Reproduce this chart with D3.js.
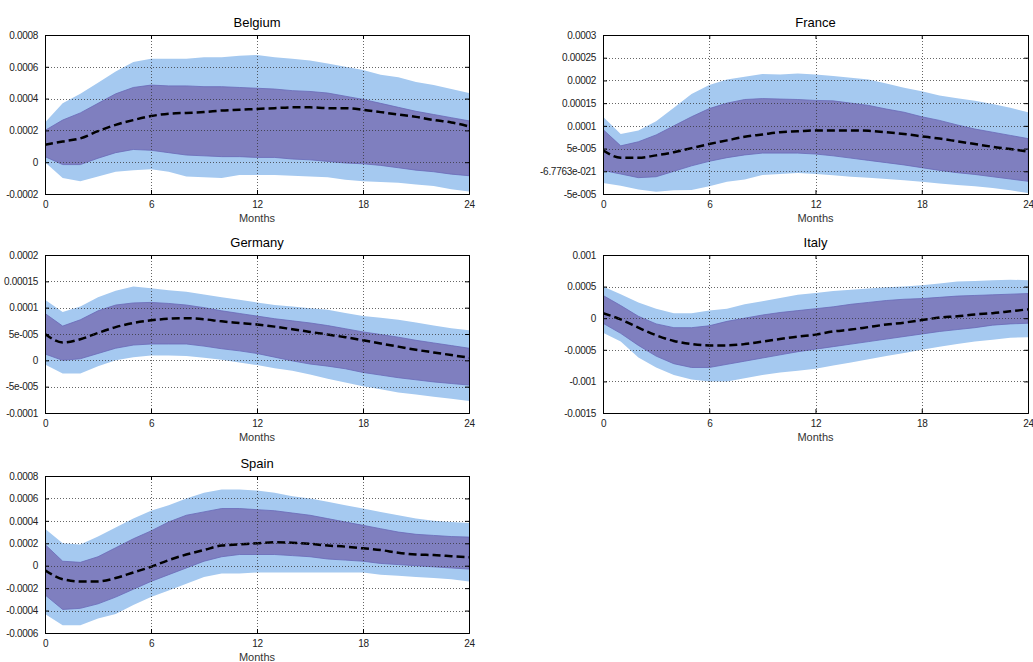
<!DOCTYPE html>
<html>
<head>
<meta charset="utf-8">
<script src="https://cdn.jsdelivr.net/npm/d3@7"></script>
<style>
  body { margin: 0; background: #fff; }
  svg { display: block; }
  text { font-family: "Liberation Sans", Arial, sans-serif; }
</style>
</head>
<body>
<svg id="chart" width="1033" height="662"></svg>
<script>
// ---------- DATA ----------
const months = d3.range(0, 25);
const xTicks = [0, 6, 12, 18, 24];
const xLabel = "Months";

// Belgium
const belgiumMedian = [1.1e-4,1.3e-4,1.5e-4,1.95e-4,2.35e-4,2.65e-4,2.9e-4,3.05e-4,3.1e-4,3.15e-4,3.25e-4,3.3e-4,3.35e-4,3.4e-4,3.45e-4,3.45e-4,3.4e-4,3.4e-4,3.3e-4,3.15e-4,3.0e-4,2.85e-4,2.65e-4,2.5e-4,2.25e-4];
const belgiumInnerUp = [2.0e-4,2.65e-4,3.1e-4,3.7e-4,4.3e-4,4.7e-4,4.85e-4,4.8e-4,4.8e-4,4.75e-4,4.75e-4,4.7e-4,4.65e-4,4.6e-4,4.5e-4,4.45e-4,4.35e-4,4.15e-4,3.95e-4,3.7e-4,3.45e-4,3.2e-4,3.0e-4,2.8e-4,2.6e-4];
const belgiumInnerLo = [0.35e-4,-0.15e-4,-0.15e-4,0.25e-4,0.6e-4,0.8e-4,0.75e-4,0.6e-4,0.45e-4,0.4e-4,0.35e-4,0.35e-4,0.3e-4,0.3e-4,0.2e-4,0.15e-4,0.05e-4,-0.05e-4,-0.1e-4,-0.2e-4,-0.35e-4,-0.5e-4,-0.6e-4,-0.75e-4,-0.85e-4];
const belgiumOuterUp = [2.5e-4,3.7e-4,4.3e-4,5.0e-4,5.7e-4,6.3e-4,6.5e-4,6.5e-4,6.5e-4,6.6e-4,6.6e-4,6.7e-4,6.75e-4,6.6e-4,6.5e-4,6.4e-4,6.2e-4,6.0e-4,5.8e-4,5.5e-4,5.35e-4,5.05e-4,4.85e-4,4.6e-4,4.35e-4];
const belgiumOuterLo = [0.0e-4,-1.0e-4,-1.2e-4,-0.9e-4,-0.6e-4,-0.5e-4,-0.45e-4,-0.6e-4,-0.9e-4,-0.95e-4,-1.0e-4,-0.8e-4,-0.8e-4,-0.8e-4,-0.85e-4,-0.9e-4,-0.95e-4,-1.1e-4,-1.2e-4,-1.25e-4,-1.3e-4,-1.4e-4,-1.5e-4,-1.7e-4,-1.85e-4];
const belgiumYTicks = [-0.0002, 0, 0.0002, 0.0004, 0.0006, 0.0008];
const belgiumYLabels = ["-0.0002", "0", "0.0002", "0.0004", "0.0006", "0.0008"];

// France
const franceMedian = [4.6e-5,3.0e-5,3.0e-5,3.5e-5,4.2e-5,5.1e-5,6.0e-5,6.8e-5,7.6e-5,8.1e-5,8.6e-5,8.8e-5,9.0e-5,9.0e-5,9.0e-5,8.9e-5,8.6e-5,8.2e-5,7.7e-5,7.2e-5,6.6e-5,6.0e-5,5.4e-5,4.9e-5,4.3e-5];
const franceInnerUp = [9.2e-5,5.6e-5,6.5e-5,8.0e-5,10.0e-5,12.0e-5,13.8e-5,15.0e-5,15.8e-5,16.0e-5,15.9e-5,15.8e-5,15.6e-5,15.5e-5,15.0e-5,14.5e-5,13.7e-5,13.0e-5,12.0e-5,11.2e-5,10.2e-5,9.3e-5,8.6e-5,7.9e-5,7.2e-5];
const franceInnerLo = [0.2e-5,-0.6e-5,-1.4e-5,-1.2e-5,0.0e-5,1.2e-5,2.2e-5,3.0e-5,3.6e-5,4.0e-5,4.0e-5,4.0e-5,3.8e-5,3.4e-5,2.9e-5,2.4e-5,1.9e-5,1.4e-5,0.8e-5,0.2e-5,-0.3e-5,-0.7e-5,-1.2e-5,-1.7e-5,-2.2e-5];
const franceOuterUp = [12.0e-5,8.2e-5,9.0e-5,11.0e-5,14.0e-5,17.0e-5,19.0e-5,20.2e-5,20.8e-5,21.4e-5,21.3e-5,21.5e-5,21.3e-5,21.0e-5,20.6e-5,20.2e-5,19.3e-5,18.4e-5,17.6e-5,16.7e-5,16.1e-5,15.5e-5,14.8e-5,14.0e-5,13.0e-5];
const franceOuterLo = [-2.6e-5,-3.2e-5,-4.0e-5,-4.5e-5,-4.2e-5,-4.1e-5,-3.3e-5,-2.3e-5,-1.8e-5,-0.8e-5,-0.6e-5,-0.4e-5,-0.6e-5,-0.9e-5,-1.2e-5,-1.4e-5,-1.7e-5,-2.0e-5,-2.3e-5,-2.7e-5,-3.0e-5,-3.3e-5,-3.7e-5,-4.2e-5,-4.8e-5];
const franceYTicks = [-0.00005, 0, 0.00005, 0.0001, 0.00015, 0.0002, 0.00025, 0.0003];
const franceYLabels = ["-5e-005", "-6.7763e-021", "5e-005", "0.0001", "0.00015", "0.0002", "0.00025", "0.0003"];

// Germany
const germanyMedian = [5.0e-5,3.4e-5,4.0e-5,5.2e-5,6.3e-5,7.1e-5,7.6e-5,7.9e-5,8.0e-5,7.8e-5,7.4e-5,7.1e-5,6.8e-5,6.4e-5,5.9e-5,5.4e-5,4.9e-5,4.4e-5,3.8e-5,3.2e-5,2.6e-5,2.0e-5,1.5e-5,1.0e-5,0.5e-5];
const germanyInnerUp = [8.9e-5,6.5e-5,7.7e-5,9.4e-5,10.5e-5,10.9e-5,11.0e-5,10.8e-5,10.5e-5,10.0e-5,9.4e-5,8.9e-5,8.4e-5,7.9e-5,7.5e-5,7.1e-5,6.6e-5,6.0e-5,5.4e-5,4.9e-5,4.4e-5,3.8e-5,3.3e-5,2.8e-5,2.3e-5];
const germanyInnerLo = [1.2e-5,0.0e-5,0.3e-5,1.3e-5,2.3e-5,2.9e-5,3.1e-5,3.1e-5,3.1e-5,2.7e-5,2.2e-5,1.8e-5,1.3e-5,0.6e-5,-0.1e-5,-0.7e-5,-1.1e-5,-1.6e-5,-2.3e-5,-2.8e-5,-3.3e-5,-3.7e-5,-4.1e-5,-4.4e-5,-4.7e-5];
const germanyOuterUp = [11.5e-5,9.2e-5,10.2e-5,12.0e-5,13.2e-5,14.0e-5,13.7e-5,13.3e-5,13.0e-5,12.5e-5,12.0e-5,11.5e-5,11.0e-5,10.5e-5,10.2e-5,9.9e-5,9.6e-5,9.0e-5,8.4e-5,8.1e-5,7.7e-5,7.2e-5,6.6e-5,6.1e-5,5.7e-5];
const germanyOuterLo = [-0.8e-5,-2.5e-5,-2.5e-5,-1.1e-5,0.0e-5,0.6e-5,0.9e-5,0.9e-5,0.8e-5,0.5e-5,0.1e-5,-0.4e-5,-0.9e-5,-1.5e-5,-2.0e-5,-2.7e-5,-3.5e-5,-4.2e-5,-4.9e-5,-5.5e-5,-6.1e-5,-6.5e-5,-6.9e-5,-7.3e-5,-7.7e-5];
const germanyYTicks = [-0.0001, -0.00005, 0, 0.00005, 0.0001, 0.00015, 0.0002];
const germanyYLabels = ["-0.0001", "-5e-005", "0", "5e-005", "0.0001", "0.00015", "0.0002"];

// Italy
const italyMedian = [0.8e-4,-0.2e-4,-1.5e-4,-2.7e-4,-3.6e-4,-4.1e-4,-4.3e-4,-4.3e-4,-4.1e-4,-3.7e-4,-3.3e-4,-2.9e-4,-2.6e-4,-2.1e-4,-1.8e-4,-1.4e-4,-1.0e-4,-0.7e-4,-0.3e-4,0.1e-4,0.3e-4,0.6e-4,0.8e-4,1.1e-4,1.4e-4];
const italyInnerUp = [3.6e-4,2.0e-4,0.3e-4,-0.9e-4,-1.5e-4,-1.5e-4,-1.2e-4,-0.5e-4,0.0e-4,0.5e-4,0.9e-4,1.2e-4,1.5e-4,1.8e-4,2.2e-4,2.5e-4,2.8e-4,3.0e-4,3.1e-4,3.3e-4,3.5e-4,3.6e-4,3.7e-4,3.8e-4,3.9e-4];
const italyInnerLo = [-0.8e-4,-2.4e-4,-4.3e-4,-6.0e-4,-7.2e-4,-7.8e-4,-7.8e-4,-7.3e-4,-6.8e-4,-6.3e-4,-5.8e-4,-5.3e-4,-4.9e-4,-4.5e-4,-4.1e-4,-3.7e-4,-3.3e-4,-2.9e-4,-2.5e-4,-2.1e-4,-1.8e-4,-1.5e-4,-1.1e-4,-0.9e-4,-0.8e-4];
const italyOuterUp = [5.0e-4,3.8e-4,2.5e-4,1.5e-4,0.8e-4,0.8e-4,1.2e-4,1.5e-4,2.2e-4,2.7e-4,3.2e-4,3.7e-4,4.0e-4,4.3e-4,4.5e-4,4.7e-4,4.9e-4,5.0e-4,5.2e-4,5.5e-4,5.8e-4,5.9e-4,6.0e-4,6.1e-4,6.0e-4];
const italyOuterLo = [-2.3e-4,-3.7e-4,-6.2e-4,-7.8e-4,-9.0e-4,-9.7e-4,-10.0e-4,-10.0e-4,-9.5e-4,-9.0e-4,-8.6e-4,-8.3e-4,-8.0e-4,-7.5e-4,-7.0e-4,-6.5e-4,-6.0e-4,-5.5e-4,-5.0e-4,-4.5e-4,-4.1e-4,-3.7e-4,-3.4e-4,-3.1e-4,-3.0e-4];
const italyYTicks = [-0.0015, -0.001, -0.0005, 0, 0.0005, 0.001];
const italyYLabels = ["-0.0015", "-0.001", "-0.0005", "0", "0.0005", "0.001"];

// Spain
const spainMedian = [-0.4e-4,-1.2e-4,-1.4e-4,-1.4e-4,-1.1e-4,-0.6e-4,-0.1e-4,0.5e-4,1.0e-4,1.4e-4,1.8e-4,1.9e-4,2.0e-4,2.1e-4,2.05e-4,1.95e-4,1.8e-4,1.7e-4,1.55e-4,1.4e-4,1.15e-4,1.0e-4,0.95e-4,0.85e-4,0.75e-4];
const spainInnerUp = [1.9e-4,0.4e-4,0.3e-4,0.8e-4,1.6e-4,2.4e-4,3.1e-4,3.9e-4,4.5e-4,4.8e-4,5.1e-4,5.1e-4,5.0e-4,4.9e-4,4.7e-4,4.5e-4,4.2e-4,3.9e-4,3.6e-4,3.3e-4,3.0e-4,2.8e-4,2.7e-4,2.6e-4,2.55e-4];
const spainInnerLo = [-2.6e-4,-3.9e-4,-3.8e-4,-3.4e-4,-2.8e-4,-2.1e-4,-1.4e-4,-0.8e-4,-0.2e-4,0.4e-4,0.8e-4,1.0e-4,1.0e-4,1.0e-4,0.9e-4,0.8e-4,0.6e-4,0.5e-4,0.4e-4,0.2e-4,0.1e-4,0.0e-4,-0.1e-4,-0.2e-4,-0.3e-4];
const spainOuterUp = [3.3e-4,2.0e-4,1.9e-4,2.6e-4,3.4e-4,4.2e-4,4.9e-4,5.4e-4,6.0e-4,6.5e-4,6.8e-4,6.8e-4,6.7e-4,6.5e-4,6.2e-4,6.0e-4,5.7e-4,5.4e-4,5.1e-4,4.8e-4,4.5e-4,4.2e-4,4.0e-4,3.9e-4,3.8e-4];
const spainOuterLo = [-4.3e-4,-5.3e-4,-5.3e-4,-4.7e-4,-4.3e-4,-3.5e-4,-2.8e-4,-2.2e-4,-1.6e-4,-1.0e-4,-0.7e-4,-0.7e-4,-0.6e-4,-0.6e-4,-0.6e-4,-0.6e-4,-0.6e-4,-0.6e-4,-0.6e-4,-0.8e-4,-0.9e-4,-1.0e-4,-1.1e-4,-1.2e-4,-1.4e-4];
const spainYTicks = [-0.0006, -0.0004, -0.0002, 0, 0.0002, 0.0004, 0.0006, 0.0008];
const spainYLabels = ["-0.0006", "-0.0004", "-0.0002", "0", "0.0002", "0.0004", "0.0006", "0.0008"];

// ---------- LAYOUT ----------
const panels = [
  { title: "Belgium", col: 0, row: 0, med: belgiumMedian, iu: belgiumInnerUp, il: belgiumInnerLo, ou: belgiumOuterUp, ol: belgiumOuterLo, yt: belgiumYTicks, yl: belgiumYLabels },
  { title: "France",  col: 1, row: 0, med: franceMedian,  iu: franceInnerUp,  il: franceInnerLo,  ou: franceOuterUp,  ol: franceOuterLo,  yt: franceYTicks,  yl: franceYLabels },
  { title: "Germany", col: 0, row: 1, med: germanyMedian, iu: germanyInnerUp, il: germanyInnerLo, ou: germanyOuterUp, ol: germanyOuterLo, yt: germanyYTicks, yl: germanyYLabels },
  { title: "Italy",   col: 1, row: 1, med: italyMedian,   iu: italyInnerUp,   il: italyInnerLo,   ou: italyOuterUp,   ol: italyOuterLo,   yt: italyYTicks,   yl: italyYLabels },
  { title: "Spain",   col: 0, row: 2, med: spainMedian,   iu: spainInnerUp,   il: spainInnerLo,   ou: spainOuterUp,   ol: spainOuterLo,   yt: spainYTicks,   yl: spainYLabels }
];

const colX = [[45, 469], [603, 1028]];
const rowY = [[35, 194], [255, 413], [476, 633]];

const svg = d3.select("#chart");
const lightBlue = "#a5c9f0";
const darkPurple = "#7f7fbf";

panels.forEach(p => {
  const [x0, x1] = colX[p.col];
  const [y0, y1] = rowY[p.row];
  const x = d3.scaleLinear().domain([0, 24]).range([x0, x1]);
  const y = d3.scaleLinear().domain([p.yt[0], p.yt[p.yt.length - 1]]).range([y1, y0]);
  const g = svg.append("g");

  const clipId = "clip-" + p.title;
  svg.append("clipPath").attr("id", clipId)
    .append("rect").attr("x", x0).attr("y", y0).attr("width", x1 - x0).attr("height", y1 - y0);

  const plot = g.append("g").attr("clip-path", `url(#${clipId})`);

  const area = (up, lo) => d3.area()
    .x((d, i) => x(months[i]))
    .y0((d, i) => y(lo[i]))
    .y1((d, i) => y(up[i]))(months);

  plot.append("path").attr("d", area(p.ou, p.ol)).attr("fill", lightBlue);
  plot.append("path").attr("d", area(p.iu, p.il)).attr("fill", darkPurple)
    .attr("stroke", "#6a6ab8").attr("stroke-width", 0.8);

  // grid (drawn over the bands)
  const grid = g.append("g");
  xTicks.slice(1, -1).forEach(t => {
    grid.append("line").attr("x1", Math.round(x(t)) + 0.5).attr("x2", Math.round(x(t)) + 0.5)
      .attr("y1", y0).attr("y2", y1)
      .attr("stroke", "#333").attr("stroke-width", 1).attr("stroke-dasharray", "1,2").attr("opacity", 0.75);
  });
  p.yt.slice(1, -1).forEach(t => {
    grid.append("line").attr("y1", Math.round(y(t)) + 0.5).attr("y2", Math.round(y(t)) + 0.5)
      .attr("x1", x0).attr("x2", x1)
      .attr("stroke", "#333").attr("stroke-width", 1).attr("stroke-dasharray", "1,2").attr("opacity", 0.75);
  });

  // median line
  const line = d3.line().x((d, i) => x(months[i])).y((d, i) => y(p.med[i])).curve(d3.curveMonotoneX);
  plot.append("path").attr("d", line(months))
    .attr("fill", "none").attr("stroke", "#000").attr("stroke-width", 2.5)
    .attr("stroke-dasharray", "8,4");

  // axes
  const xAxis = d3.axisBottom(x).tickValues(xTicks).tickSize(-4).tickPadding(7).tickFormat(d3.format("d"));
  const xAxisTop = d3.axisTop(x).tickValues(xTicks).tickSize(-4).tickFormat("");
  const yAxis = d3.axisLeft(y).tickValues(p.yt).tickSize(-4).tickPadding(7).tickFormat((d, i) => p.yl[i]);
  const yAxisRight = d3.axisRight(y).tickValues(p.yt).tickSize(-4).tickFormat("");

  const styleAxis = sel => {
    sel.selectAll("path.domain").attr("stroke", "#000").attr("stroke-width", 1);
    sel.selectAll(".tick line").attr("stroke", "#000");
    sel.selectAll("text").attr("font-family", "'Liberation Sans', Arial, sans-serif")
      .attr("font-size", 10).attr("fill", "#222");
  };

  g.append("g").attr("transform", `translate(0,${y1})`).call(xAxis).call(styleAxis);
  g.append("g").attr("transform", `translate(0,${y0})`).call(xAxisTop).call(styleAxis);
  g.append("g").attr("transform", `translate(${x0},0)`).call(yAxis).call(styleAxis);
  g.append("g").attr("transform", `translate(${x1},0)`).call(yAxisRight).call(styleAxis);
  g.selectAll(".tick text").attr("letter-spacing", "-0.3px");

  // title
  g.append("text").attr("x", (x0 + x1) / 2).attr("y", y0 - 8)
    .attr("text-anchor", "middle").attr("font-size", 13).attr("fill", "#000").text(p.title);
  // x label
  g.append("text").attr("x", (x0 + x1) / 2).attr("y", y1 + 28)
    .attr("text-anchor", "middle").attr("font-size", 11).attr("fill", "#333").text(xLabel);
});
</script>
</body>
</html>
